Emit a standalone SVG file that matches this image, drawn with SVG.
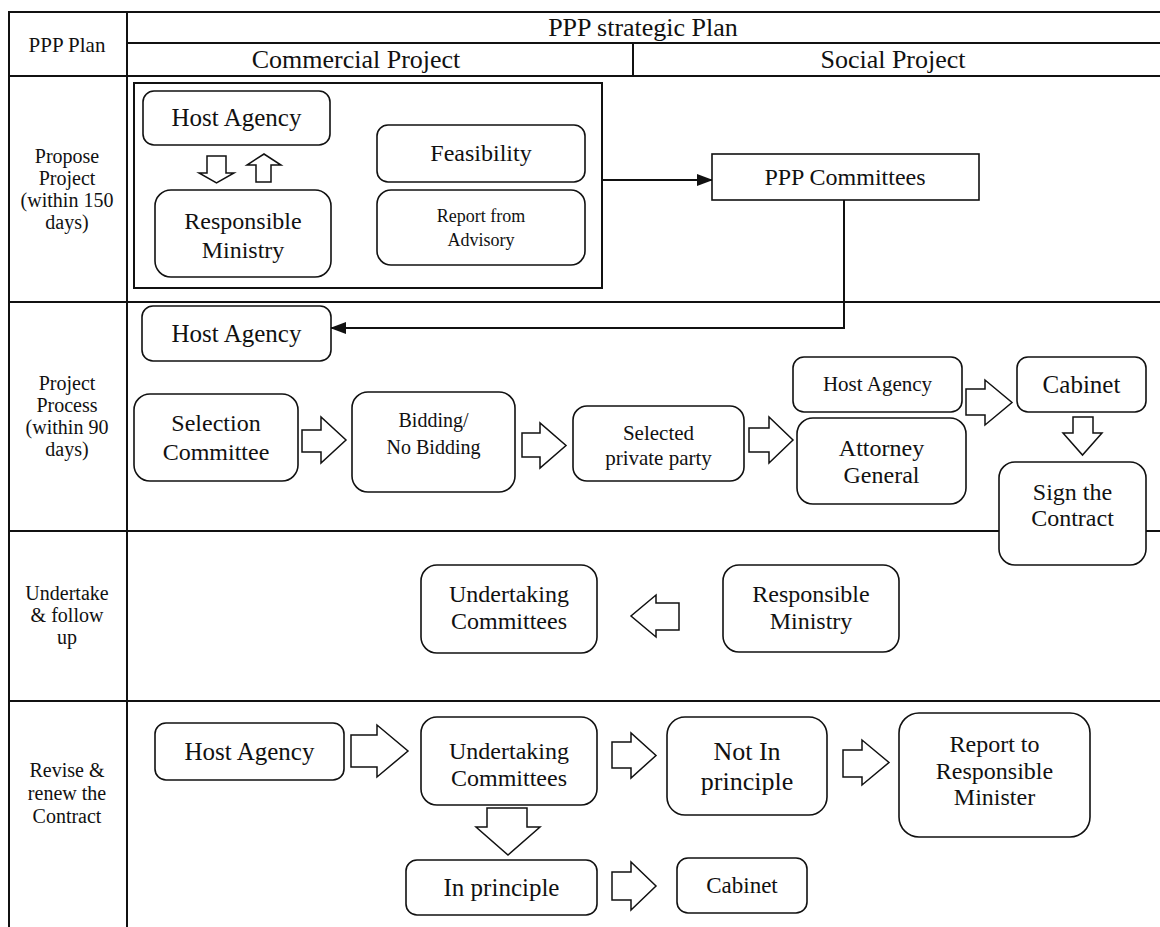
<svg xmlns="http://www.w3.org/2000/svg" width="1160" height="927" viewBox="0 0 1160 927">
<style>
text{font-family:"Liberation Serif","Times New Roman",serif;fill:#111;text-anchor:middle}
.grid{stroke:#111;stroke-width:2;fill:none}
.box{fill:#fff;stroke:#111;stroke-width:1.6}
.blk{fill:#fff;stroke:#111;stroke-width:1.5;stroke-linejoin:miter}
.con{stroke:#111;stroke-width:2;fill:none}
.lbl{font-size:20px}
.n24{font-size:24px}
.n25{font-size:25px}
</style>
<defs>
<marker id="ah" markerWidth="16" markerHeight="12" refX="15" refY="6" orient="auto" markerUnits="userSpaceOnUse">
<path d="M0,0 L16,6 L0,12 Z" fill="#111"/>
</marker>
</defs>
<rect width="1160" height="927" fill="#fff"/>
<g id="table">
<line class="grid" x1="8" y1="12" x2="1160" y2="12"/>
<line class="grid" x1="127" y1="43" x2="1160" y2="43"/>
<line class="grid" x1="8" y1="76" x2="1160" y2="76"/>
<line class="grid" x1="633" y1="43" x2="633" y2="76"/>
<line class="grid" x1="9" y1="11" x2="9" y2="927"/>
<line class="grid" x1="127" y1="11" x2="127" y2="927"/>
<line class="grid" x1="8" y1="302" x2="1160" y2="302"/>
<line class="grid" x1="8" y1="531" x2="1160" y2="531"/>
<line class="grid" x1="8" y1="701" x2="1160" y2="701"/>
<text x="67" y="52" style="font-size:21px">PPP Plan</text>
<text x="643" y="36" style="font-size:26px">PPP strategic Plan</text>
<text x="356" y="68" style="font-size:26px">Commercial Project</text>
<text x="893" y="68" style="font-size:26px">Social Project</text>
<text class="lbl" x="67" y="163">Propose</text>
<text class="lbl" x="67" y="185">Project</text>
<text class="lbl" x="67" y="207">(within 150</text>
<text class="lbl" x="67" y="229">days)</text>
<text class="lbl" x="67" y="390">Project</text>
<text class="lbl" x="67" y="412">Process</text>
<text class="lbl" x="67" y="434">(within 90</text>
<text class="lbl" x="67" y="456">days)</text>
<text class="lbl" x="67" y="600">Undertake</text>
<text class="lbl" x="67" y="622">&amp; follow</text>
<text class="lbl" x="67" y="644">up</text>
<text class="lbl" x="67" y="777">Revise &amp;</text>
<text class="lbl" x="67" y="800">renew the</text>
<text class="lbl" x="67" y="823">Contract</text>
</g>
<g id="connectors">
<line class="con" x1="602" y1="180" x2="712" y2="180" marker-end="url(#ah)"/>
<polyline class="con" points="844,196 844,328 331,328" marker-end="url(#ah)"/>
<polygon class="blk" points="207,156 226,156 226,173 234,173 216.5,183 199,173 207,173"/>
<polygon class="blk" points="256,182 271,182 271,165 281,165 264,154 247,165 256,165"/>
<polygon class="blk" points="302,430 321,430 321,417 346,440 321,463 321,452 302,452"/>
<polygon class="blk" points="522,433 540,433 540,423 566,445.5 540,468 540,457 522,457"/>
<polygon class="blk" points="749,428 769,428 769,417 793,440 769,463 769,452 749,452"/>
<polygon class="blk" points="966,389 985,389 985,380 1012,402.5 985,425 985,415 966,415"/>
<polygon class="blk" points="1073,417 1093,417 1093,433 1102,433 1082.5,455 1063,433 1073,433"/>
<polygon class="blk" points="679,603 656,603 656,595 631,616 656,637 656,630 679,630"/>
<polygon class="blk" points="351,735 377,735 377,725 408,751 377,777 377,767 351,767"/>
<polygon class="blk" points="487,808 527,808 527,827 540,827 508,855 476,827 487,827"/>
<polygon class="blk" points="612,742 631,742 631,733 656,755.5 631,778 631,768 612,768"/>
<polygon class="blk" points="843,750 862,750 862,740 889,762.5 862,785 862,777 843,777"/>
<polygon class="blk" points="612,872 631,872 631,862 656,886 631,910 631,900 612,900"/>
</g>
<g id="propose-group"><rect x="134" y="83" width="468" height="205" fill="none" stroke="#111" stroke-width="2"/></g>
<g id="n-host1"><rect class="box" x="143" y="91" width="187" height="54" rx="11"/><text class="n25" x="236.5" y="126">Host Agency</text></g>
<g id="n-resp1"><rect class="box" x="155" y="190" width="176" height="87" rx="16"/><text class="n24" x="243" y="229">Responsible</text><text class="n24" x="243" y="258">Ministry</text></g>
<g id="n-feas"><rect class="box" x="377" y="125" width="208" height="57" rx="11"/><text class="n24" x="481" y="161">Feasibility</text></g>
<g id="n-report"><rect class="box" x="377" y="190" width="208" height="75" rx="14"/><text x="481" y="222" style="font-size:18px">Report from</text><text x="481" y="246" style="font-size:18px">Advisory</text></g>
<g id="n-pppc"><rect class="box" x="712" y="154" width="267" height="46"/><text class="n24" x="845" y="185">PPP Committees</text></g>
<g id="n-host2"><rect class="box" x="142" y="306" width="189" height="55" rx="11"/><text class="n25" x="236.5" y="342">Host Agency</text></g>
<g id="n-sel"><rect class="box" x="134" y="394" width="164" height="87" rx="16"/><text class="n24" x="216" y="431">Selection</text><text class="n24" x="216" y="460">Committee</text></g>
<g id="n-bid"><rect class="box" x="352" y="392" width="163" height="100" rx="16"/><text x="433.5" y="427" style="font-size:20px">Bidding/</text><text x="433.5" y="454" style="font-size:20px">No Bidding</text></g>
<g id="n-selp"><rect class="box" x="573" y="406" width="171" height="75" rx="14"/><text x="658.5" y="440" style="font-size:21px">Selected</text><text x="658.5" y="465" style="font-size:21px">private party</text></g>
<g id="n-host3"><rect class="box" x="793" y="357" width="169" height="55" rx="11"/><text x="877.5" y="391" style="font-size:21px">Host Agency</text></g>
<g id="n-att"><rect class="box" x="797" y="418" width="169" height="86" rx="16"/><text class="n24" x="881.5" y="456">Attorney</text><text class="n24" x="881.5" y="483">General</text></g>
<g id="n-cab1"><rect class="box" x="1017" y="357" width="129" height="55" rx="11"/><text class="n25" x="1081.5" y="393">Cabinet</text></g>
<g id="n-sign"><rect class="box" x="999" y="462" width="147" height="103" rx="16"/><text class="n24" x="1072.5" y="500">Sign the</text><text class="n24" x="1072.5" y="526">Contract</text></g>
<g id="n-und1"><rect class="box" x="421" y="565" width="176" height="88" rx="16"/><text class="n24" x="509" y="602">Undertaking</text><text class="n24" x="509" y="629">Committees</text></g>
<g id="n-resp2"><rect class="box" x="723" y="565" width="176" height="87" rx="16"/><text class="n24" x="811" y="602">Responsible</text><text class="n24" x="811" y="629">Ministry</text></g>
<g id="n-host4"><rect class="box" x="155" y="723" width="189" height="57" rx="11"/><text class="n25" x="249.5" y="760">Host Agency</text></g>
<g id="n-und2"><rect class="box" x="421" y="717" width="176" height="88" rx="16"/><text class="n24" x="509" y="759">Undertaking</text><text class="n24" x="509" y="786">Committees</text></g>
<g id="n-inp"><rect class="box" x="406" y="860" width="191" height="55" rx="11"/><text class="n25" x="501.5" y="896">In principle</text></g>
<g id="n-notin"><rect class="box" x="667" y="717" width="160" height="98" rx="18"/><text x="747" y="760" style="font-size:26px">Not In</text><text x="747" y="790" style="font-size:26px">principle</text></g>
<g id="n-rep"><rect class="box" x="899" y="713" width="191" height="124" rx="20"/><text class="n24" x="994.5" y="752">Report to</text><text class="n24" x="994.5" y="779">Responsible</text><text class="n24" x="994.5" y="805">Minister</text></g>
<g id="n-cab2"><rect class="box" x="677" y="858" width="130" height="55" rx="11"/><text x="742" y="893" style="font-size:23px">Cabinet</text></g>
</svg>
